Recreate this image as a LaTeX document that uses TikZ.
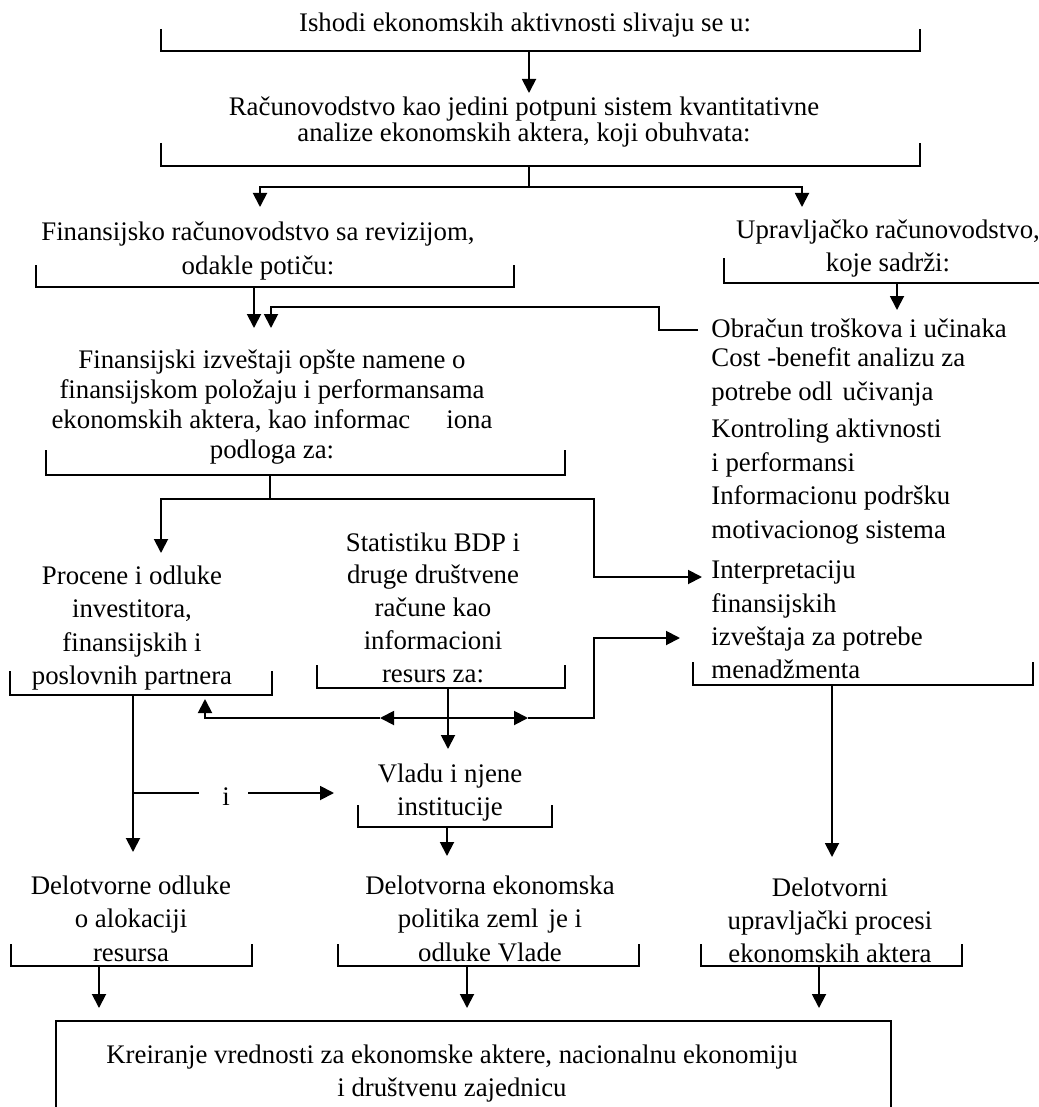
\documentclass[tikz,border=0pt]{standalone}
\usepackage{fontspec}
\setmainfont{Liberation Serif}
\usetikzlibrary{arrows.meta}
% open-top bracket under a text block: x1, x2, top, bottom
\newcommand{\brk}[4]{\draw[brk] (#1,#3) |- (#2,#4) -- (#2,#3);}

\begin{document}
\begin{tikzpicture}[
  x=0.5pt,y=-0.5pt,
  every node/.style={font=\fontsize{13.4}{16.5}\selectfont,align=center,inner sep=0pt},
  lsp/.style={font=\fontsize{13.4}{#1}\selectfont},
  lst/.style={anchor=west,align=left},
  brk/.style={line width=0.85pt},
  ln/.style={line width=0.95pt},
  arr/.style={-{Triangle[length=7pt,width=7pt]},line width=0.95pt}
]
\useasboundingbox (0,0) rectangle (1038,1107);

% text blocks
\node (ish) at (525,25) {Ishodi ekonomskih aktivnosti slivaju se u:};
\node[lsp=13pt] (rac) at (524,122) {Računovodstvo kao jedini potpuni sistem kvantitativne\\analize ekonomskih aktera, koji obuhvata:};
\node[lsp=17pt] (fin) at (258,251) {Finansijsko računovodstvo sa revizijom,\\odakle potiču:};
\node[lsp=16.5pt] (upr) at (888,248.5) {Upravljačko računovodstvo,\\koje sadrži:};
\node[lsp=15pt] (izv) at (272,407) {Finansijski izveštaji opšte namene o\\finansijskom položaju i performansama\\ekonomskih aktera, kao informac\hspace{18pt}iona\\podloga za:};
\node[lst] (obr) at (711,328) {Obračun troškova i učinaka};
\node[lst,lsp=17pt] (cba) at (711,377) {Cost -benefit analizu za\\potrebe odl\hspace{5pt}učivanja};
\node[lst,lsp=17pt] (ktr) at (711,448) {Kontroling aktivnosti\\i performansi};
\node[lst,lsp=17pt] (inf) at (711,515) {Informacionu podršku\\motivacionog sistema};
\node[lst,lsp=16.7pt] (itp) at (711,620) {Interpretaciju\\finansijskih\\izveštaja za potrebe\\menadžmenta};
\node[lsp=16.4pt] (stat) at (433,607.5) {Statistiku BDP i\\druge društvene\\račune kao\\informacioni\\resurs za:};
\node[lsp=16.7pt] (proc) at (132,628) {Procene i odluke\\investitora,\\finansijskih i\\poslovnih partnera};
\node[lsp=16.5pt] (vla) at (450,793) {Vladu i njene\\institucije};
\node (iand) at (226,797) {i};
\node[lsp=16.75pt] (dod) at (131,918.5) {Delotvorne odluke\\o alokaciji\\resursa};
\node[lsp=16.75pt] (dep) at (490,918.5) {Delotvorna ekonomska\\politika zeml\hspace{5pt}je i\\odluke Vlade};
\node[lsp=16.5pt] (dup) at (830,920) {Delotvorni\\upravljački procesi\\ekonomskih aktera};
\node[lsp=16.5pt] (kre) at (452,1073.5) {Kreiranje vrednosti za ekonomske aktere, nacionalnu ekonomiju\\i društvenu zajednicu};

% brackets
\brk{161}{920}{29}{51}
\brk{161}{920}{143}{166}
\brk{36}{514}{265}{287}
\draw[brk] (724,258) |- (1040,283);
\brk{46}{565}{450}{475}
\brk{693}{1033}{662}{685}
\brk{317}{565}{665}{688}
\brk{10}{272}{671}{695}
\brk{358}{552}{805}{827}
\brk{11}{252}{944}{966}
\brk{338}{639}{944}{966}
\brk{701}{962}{944}{966}
\draw[ln] (56,1110) |- (891,1021) -- (891,1110);

% junctions and arrow ends
\coordinate (b1) at (529,51);   \coordinate (t1) at (529,93);
\coordinate (b2) at (529,166);  \coordinate (fork) at (529,187);
\coordinate (t2) at (260,207);  \coordinate (t3) at (802,207);
\coordinate (b3) at (254,287);  \coordinate (t4) at (254,328);
\coordinate (o1) at (698,330);  \coordinate (t5) at (271,328);
\coordinate (b4) at (897,283);  \coordinate (t6) at (897,310);
\coordinate (b6) at (270,475);  \coordinate (fork2) at (270,499);
\coordinate (t7) at (161,553);  \coordinate (t8) at (702,577);
\coordinate (b8) at (133,695);  \coordinate (t9) at (133,852);
\coordinate (i1) at (133,793);  \coordinate (i2) at (199,793);
\coordinate (i3) at (248,793);  \coordinate (t12) at (334,793);
\coordinate (b7) at (448,688);  \coordinate (mid) at (448,718);
\coordinate (ml) at (380,718);  \coordinate (mr) at (528,718);
\coordinate (t10) at (205,699); \coordinate (t11) at (680,638);
\coordinate (b9) at (447,827);  \coordinate (b5) at (832,685);
\coordinate (b10) at (99,966);  \coordinate (b11) at (467,966);
\coordinate (b12) at (819,966);

% connectors
\draw[arr] (b1) -- (t1);
\draw[ln] (b2) -- (fork);
\draw[arr] (fork) -| (t2);
\draw[arr] (fork) -| (t3);
\draw[arr] (b3) -- (t4);
\draw[arr] (o1) -- (659,330) |- (271,307) -- (t5);
\draw[arr] (b4) -- (t6);
\draw[ln] (b6) -- (fork2);
\draw[arr] (fork2) -| (t7);
\draw[arr] (fork2) -| (594,577) -- (t8);
\draw[arr] (b8) -- (t9);
\draw[ln] (i1) -- (i2);
\draw[arr] (i3) -- (t12);
\draw[arr] (b7) -- (448,749);
\draw[arr] (mid) -- (ml);
\draw[arr] (ml) -| (t10);
\draw[arr] (mid) -- (mr);
\draw[arr] (mr) -| (594,638) -- (t11);
\draw[arr] (b9) -- (447,856);
\draw[arr] (b5) -- (832,857);
\draw[arr] (b10) -- (99,1008);
\draw[arr] (b11) -- (467,1008);
\draw[arr] (b12) -- (819,1008);
\end{tikzpicture}
\end{document}
